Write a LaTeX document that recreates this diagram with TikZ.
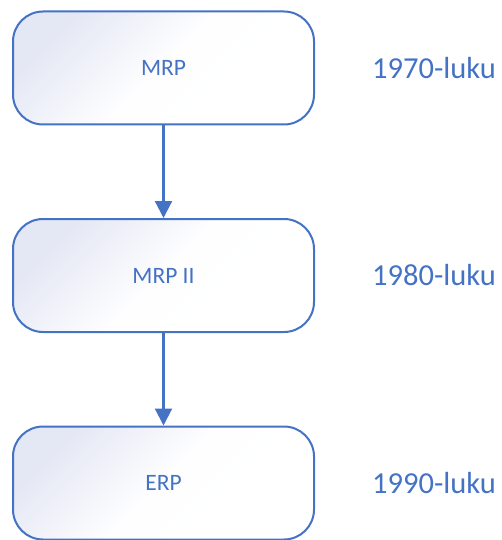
\documentclass[tikz,border=0pt]{standalone}
\usepackage{fontspec}
\setmainfont{Carlito}
\usetikzlibrary{arrows.meta}
\definecolor{accent}{HTML}{4472C4}
\definecolor{tint}{HTML}{E4E7F4}
\tikzset{
  stage/.style={draw=accent, line width=2pt, rounded corners=30pt,
    minimum width=301pt, minimum height=113pt, inner sep=0pt,
    top color=tint, bottom color=white, middle color=white!97!tint,
    shading angle=45,
    text=accent, font=\fontsize{23.5}{27}\selectfont},
  era/.style={anchor=west, inner sep=0pt, text=accent,
    font=\fontsize{30.5}{36}\selectfont},
  flow/.style={draw=accent, line width=2.2pt,
    -{Triangle[length=17pt, width=17pt]}}
}
\begin{document}
\begin{tikzpicture}[x=1pt, y=-1pt]
  \useasboundingbox (0,0) rectangle (501,540);
  \node[stage] (mrp)   at (163.5, 68)  {MRP};
  \node[stage] (mrp2)  at (163.5, 275.5) {MRP II};
  \node[stage] (erp)   at (163.5, 483) {ERP};
  \node[era] (d70) at (372, 68)  {1970-luku};
  \node[era] (d80) at (372, 275.5) {1980-luku};
  \node[era] (d90) at (372, 483) {1990-luku};
  \draw[flow] (mrp.south) -- (mrp2.north);
  \draw[flow] (mrp2.south) -- (erp.north);
\end{tikzpicture}
\end{document}
